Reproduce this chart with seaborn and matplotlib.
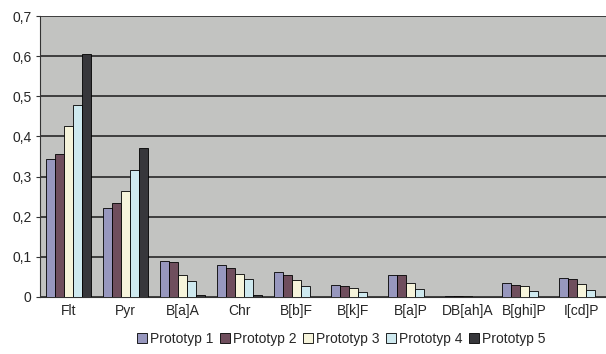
import matplotlib
matplotlib.use("Agg")
import matplotlib.pyplot as plt
import numpy as np
import pandas as pd
import seaborn as sns
from matplotlib.ticker import FuncFormatter

COMPOUNDS = ["Flt", "Pyr", "B[a]A", "Chr", "B[b]F", "B[k]F", "B[a]P", "DB[ah]A", "B[ghi]P", "I[cd]P"]
SERIES = ["Prototyp 1", "Prototyp 2", "Prototyp 3", "Prototyp 4", "Prototyp 5"]

proto1 = [0.345, 0.222, 0.090, 0.080, 0.063, 0.030, 0.055, 0.002, 0.034, 0.048]
proto2 = [0.355, 0.235, 0.088, 0.073, 0.055, 0.028, 0.054, 0.002, 0.031, 0.044]
proto3 = [0.427, 0.265, 0.055, 0.057, 0.043, 0.022, 0.036, 0.002, 0.027, 0.033]
proto4 = [0.478, 0.316, 0.040, 0.044, 0.027, 0.013, 0.020, 0.001, 0.015, 0.017]
proto5 = [0.605, 0.372, 0.006, 0.005, 0.000, 0.000, 0.000, 0.000, 0.000, 0.000]

COLORS = ["#9090c4", "#74485c", "#fbf8d6", "#c9ecf4", "#36363c"]


def main():
    sns.set_style("white")
    plt.rcParams["font.family"] = ["Liberation Sans", "DejaVu Sans"]

    df = pd.DataFrame({
        "compound": COMPOUNDS * 5,
        "proto": np.repeat(SERIES, len(COMPOUNDS)),
        "value": proto1 + proto2 + proto3 + proto4 + proto5,
    })

    fig = plt.figure(figsize=(6.06, 3.54), dpi=100)
    ax = fig.add_axes([40 / 606, 1 - 297 / 354, 570 / 606, 281 / 354])
    ax.set_facecolor("#c2c3c1")

    sns.barplot(data=df, x="compound", y="value", hue="proto", palette=COLORS,
                width=0.8, edgecolor="black", linewidth=0.6, ax=ax, zorder=3)

    ax.set_ylim(0, 0.7)
    ax.set_xlim(-0.5, len(COMPOUNDS) - 0.5)
    ax.set_yticks(np.arange(0, 0.71, 0.1))
    ax.yaxis.set_major_formatter(FuncFormatter(lambda v, p: "0" if v == 0 else f"{v:.1f}".replace(".", ",")))
    ax.grid(axis="y", color="#1a1a1a", linewidth=1.1, zorder=0)
    ax.set_axisbelow(True)

    # ticks between the groups
    ax.set_xticks(np.arange(-0.5, len(COMPOUNDS), 1), minor=True)
    ax.tick_params(axis="x", which="minor", length=3, width=0.8, color="#333333")
    ax.tick_params(axis="x", which="major", length=0, labelsize=10, pad=5)
    ax.tick_params(axis="y", length=3, width=0.8, color="#333333", labelsize=10, left=True, pad=3)

    for side in ["top", "right"]:
        ax.spines[side].set_visible(False)
    ax.spines["left"].set_color("#333333")
    ax.spines["bottom"].set_color("#333333")
    ax.set_xlabel("")
    ax.set_ylabel("")

    handles, labels = ax.get_legend_handles_labels()
    ax.get_legend().remove()
    fig.legend(handles, labels, loc="center", bbox_to_anchor=(341 / 606, 1 - 339 / 354),
               ncol=5, frameon=False, fontsize=10, handlelength=0.75, handleheight=0.75,
               handletextpad=0.2, columnspacing=0.45)

    fig.savefig("out.png", dpi=100)


if __name__ == "__main__":
    main()
